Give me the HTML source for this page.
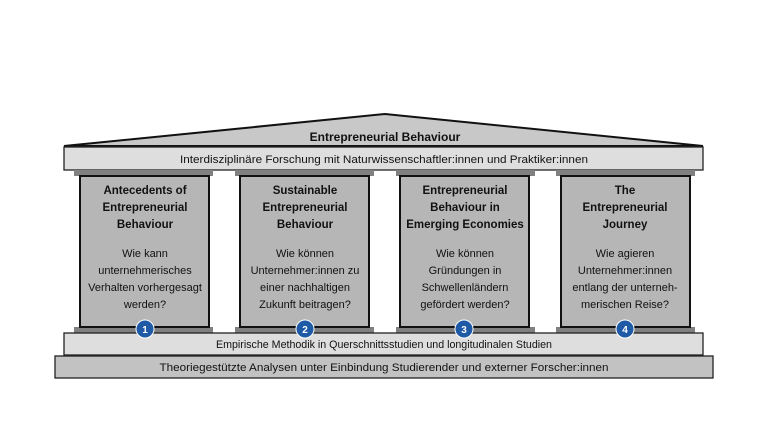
<!DOCTYPE html>
<html><head><meta charset="utf-8"><style>html,body{margin:0;padding:0;background:#fff}svg{display:block}</style></head>
<body>
<svg width="768" height="432" viewBox="0 0 768 432" xmlns="http://www.w3.org/2000/svg" font-family="Liberation Sans, sans-serif">
<rect width="768" height="432" fill="#fff"/>
<polygon points="64,146 385,114 703,146" fill="#c8c8c8" stroke="#111" stroke-width="2"/>
<text x="385" y="141" text-anchor="middle" font-size="12" font-weight="bold" fill="#111">Entrepreneurial Behaviour</text>
<rect x="64" y="147" width="639" height="23" fill="#dedede" stroke="#222" stroke-width="1.3"/>
<text x="384" y="163" text-anchor="middle" font-size="11" fill="#111" textLength="408" lengthAdjust="spacingAndGlyphs">Interdisziplinäre Forschung mit Naturwissenschaftler:innen und Praktiker:innen</text>
<g fill="#808080">
<rect x="74" y="170" width="139" height="6"/><rect x="235" y="170" width="139" height="6"/><rect x="396" y="170" width="139" height="6"/><rect x="556" y="170" width="139" height="6"/>
<rect x="74" y="327" width="139" height="6"/><rect x="235" y="327" width="139" height="6"/><rect x="396" y="327" width="139" height="6"/><rect x="556" y="327" width="139" height="6"/>
</g>
<g fill="#b6b6b6" stroke="#111" stroke-width="2">
<rect x="80" y="176" width="129" height="151"/><rect x="240" y="176" width="129" height="151"/><rect x="400" y="176" width="129" height="151"/><rect x="561" y="176" width="129" height="151"/>
</g>
<g font-size="11" fill="#111" text-anchor="middle">
<g font-weight="bold" font-size="11.5">
<text x="145" y="194">Antecedents of</text><text x="145" y="211">Entrepreneurial</text><text x="145" y="228">Behaviour</text>
<text x="305" y="194">Sustainable</text><text x="305" y="211">Entrepreneurial</text><text x="305" y="228">Behaviour</text>
<text x="465" y="194">Entrepreneurial</text><text x="465" y="211">Behaviour in</text><text x="465" y="228">Emerging Economies</text>
<text x="625" y="194">The</text><text x="625" y="211">Entrepreneurial</text><text x="625" y="228">Journey</text>
</g>
<text x="145" y="257">Wie kann</text><text x="145" y="274">unternehmerisches</text><text x="145" y="291">Verhalten vorhergesagt</text><text x="145" y="308">werden?</text>
<text x="305" y="257">Wie können</text><text x="305" y="274">Unternehmer:innen zu</text><text x="305" y="291">einer nachhaltigen</text><text x="305" y="308">Zukunft beitragen?</text>
<text x="465" y="257">Wie können</text><text x="465" y="274">Gründungen in</text><text x="465" y="291">Schwellenländern</text><text x="465" y="308">gefördert werden?</text>
<text x="625" y="257">Wie agieren</text><text x="625" y="274">Unternehmer:innen</text><text x="625" y="291">entlang der unterneh-</text><text x="625" y="308">merischen Reise?</text>
</g>
<rect x="64" y="333" width="639" height="22" fill="#dedede" stroke="#222" stroke-width="1.3"/>
<text x="384" y="348" text-anchor="middle" font-size="11" fill="#111" textLength="336" lengthAdjust="spacingAndGlyphs">Empirische Methodik in Querschnittsstudien und longitudinalen Studien</text>
<rect x="55" y="356" width="658" height="22" fill="#c2c2c2" stroke="#222" stroke-width="1.3"/>
<text x="384" y="371" text-anchor="middle" font-size="11" fill="#111" textLength="449" lengthAdjust="spacingAndGlyphs">Theoriegestützte Analysen unter Einbindung Studierender und externer Forscher:innen</text>
<g fill="#1f5aa6" stroke="#fff" stroke-width="1">
<circle cx="145" cy="329" r="9"/><circle cx="305" cy="329" r="9"/><circle cx="464" cy="329" r="9"/><circle cx="625" cy="329" r="9"/>
</g>
<g fill="#fff" font-size="10" font-weight="bold" text-anchor="middle">
<text x="145" y="333">1</text><text x="305" y="333">2</text><text x="464" y="333">3</text><text x="625" y="333">4</text>
</g>
</svg>
</body></html>
